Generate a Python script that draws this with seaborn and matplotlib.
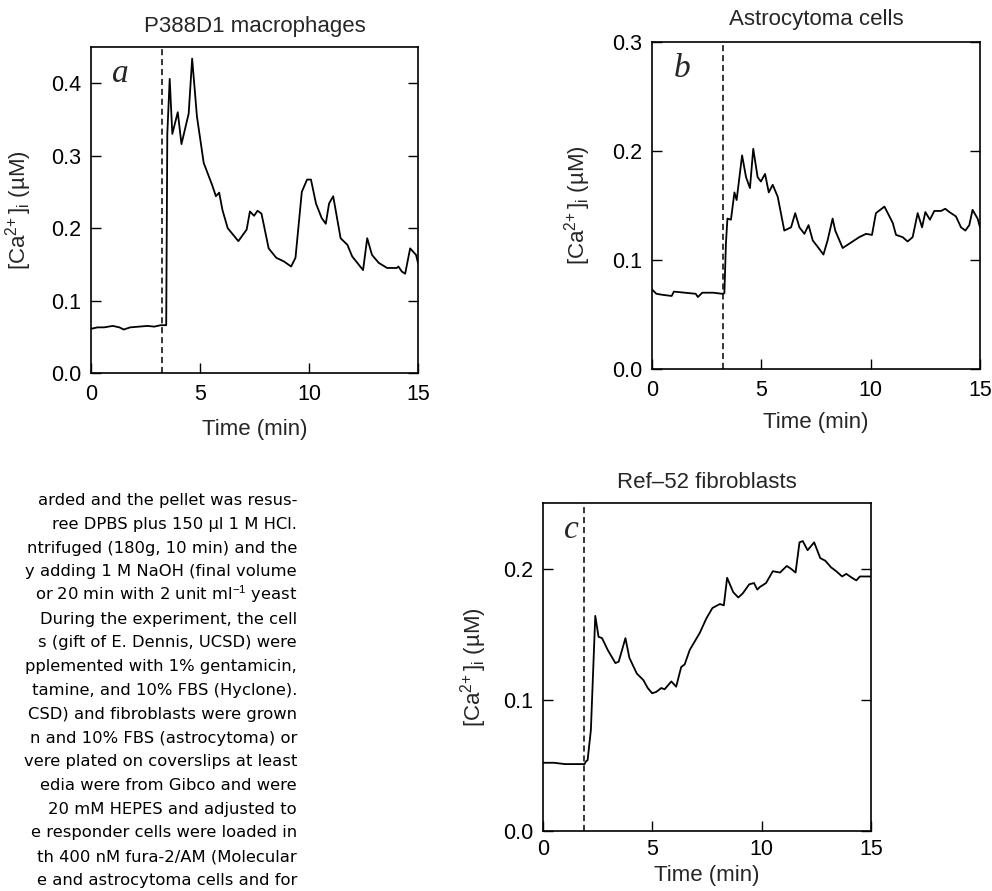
import matplotlib
matplotlib.use("Agg")
import matplotlib.pyplot as plt
import seaborn as sns

# traces (time in min, [Ca2+]i in uM)
t_a = [0.0, 0.3, 0.6, 1.0, 1.3, 1.5, 1.8, 2.2, 2.6, 2.9, 3.2, 3.45, 3.5, 3.61, 3.73, 3.98, 4.15, 4.48, 4.64, 4.86,
       5.17, 5.55, 5.73, 5.88, 6.03, 6.27, 6.76, 7.14, 7.29, 7.48, 7.64, 7.82, 8.15, 8.5, 8.85, 9.18, 9.38, 9.67, 9.91, 10.09,
       10.32, 10.58, 10.77, 10.92, 11.11, 11.45, 11.76, 11.98, 12.48, 12.67, 12.89, 13.2, 13.58, 14.03, 14.1, 14.26, 14.41, 14.64, 14.91, 15.0]
ca_a = [0.061, 0.063, 0.063, 0.065, 0.063, 0.060, 0.063, 0.064, 0.065, 0.064, 0.066, 0.066, 0.33, 0.406, 0.33, 0.36, 0.316, 0.358, 0.434, 0.354,
        0.29, 0.26, 0.244, 0.249, 0.225, 0.200, 0.182, 0.198, 0.223, 0.217, 0.224, 0.220, 0.172, 0.159, 0.154, 0.147, 0.159, 0.250, 0.267, 0.267,
        0.234, 0.214, 0.206, 0.234, 0.244, 0.186, 0.177, 0.161, 0.142, 0.186, 0.163, 0.152, 0.145, 0.145, 0.147, 0.140, 0.137, 0.172, 0.163, 0.152]

t_b = [0.0, 0.2, 0.5, 0.9, 1.0, 1.5, 2.0, 2.1, 2.3, 2.8, 3.2, 3.31, 3.38, 3.45, 3.61, 3.77, 3.87, 4.12, 4.30, 4.48,
       4.63, 4.83, 4.98, 5.17, 5.34, 5.52, 5.75, 6.05, 6.36, 6.55, 6.74, 6.97, 7.16, 7.35, 7.58, 7.84, 8.03, 8.26, 8.38, 8.72,
       9.48, 9.79, 10.06, 10.24, 10.63, 11.01, 11.16, 11.46, 11.69, 11.92, 12.15, 12.35, 12.50, 12.71, 12.91, 13.22, 13.41, 13.60, 13.90, 14.13,
       14.33, 14.51, 14.66, 14.89, 15.0]
ca_b = [0.073, 0.069, 0.068, 0.067, 0.071, 0.070, 0.069, 0.066, 0.070, 0.070, 0.069, 0.0695, 0.115, 0.138, 0.137, 0.162, 0.155, 0.196, 0.176, 0.166,
        0.202, 0.176, 0.172, 0.179, 0.162, 0.169, 0.158, 0.127, 0.130, 0.143, 0.130, 0.124, 0.132, 0.118, 0.112, 0.105, 0.118, 0.138, 0.127, 0.111,
        0.121, 0.124, 0.123, 0.143, 0.149, 0.134, 0.123, 0.121, 0.117, 0.121, 0.143, 0.130, 0.144, 0.137, 0.145, 0.145, 0.147, 0.144, 0.140, 0.130,
        0.127, 0.132, 0.146, 0.138, 0.130]

t_c = [0.0, 0.5, 1.0, 1.5, 1.9, 1.96, 2.04, 2.19, 2.39, 2.54, 2.70, 2.96, 3.31, 3.46, 3.77, 3.95, 4.29, 4.59, 4.79, 4.99,
       5.18, 5.41, 5.56, 5.87, 6.09, 6.32, 6.48, 6.71, 7.17, 7.47, 7.75, 8.09, 8.27, 8.42, 8.70, 8.93, 9.13, 9.43, 9.65, 9.80,
       9.92, 10.20, 10.51, 10.84, 11.15, 11.33, 11.55, 11.73, 11.88, 12.10, 12.40, 12.68, 12.91, 13.17, 13.41, 13.68, 13.87, 14.13, 14.33, 14.49,
       14.82, 15.0]
ca_c = [0.052, 0.052, 0.051, 0.051, 0.051, 0.053, 0.054, 0.077, 0.164, 0.148, 0.147, 0.138, 0.128, 0.129, 0.147, 0.132, 0.120, 0.115, 0.109, 0.105,
        0.106, 0.109, 0.108, 0.114, 0.110, 0.125, 0.127, 0.138, 0.151, 0.162, 0.170, 0.173, 0.172, 0.193, 0.182, 0.178, 0.181, 0.188, 0.189, 0.184,
        0.186, 0.189, 0.198, 0.197, 0.202, 0.200, 0.197, 0.220, 0.221, 0.214, 0.220, 0.208, 0.206, 0.201, 0.198, 0.194, 0.196, 0.193, 0.191, 0.194,
        0.194, 0.194]

titles = ["P388D1 macrophages", "Astrocytoma cells", "Ref\u201352 fibroblasts"]
letters = ["a", "b", "c"]
stim_times = [3.27, 3.26, 1.88]
y_max = [0.45, 0.30, 0.25]
y_ticks = [[0.0, 0.1, 0.2, 0.3, 0.4], [0.0, 0.1, 0.2, 0.3], [0.0, 0.1, 0.2]]
x_ticks = [0, 5, 10, 15]

# text column cut off at the left edge of the page
text_lines = [
    "arded and the pellet was resus-",
    "ree DPBS plus 150 \u00b5l 1 M HCl.",
    "ntrifuged (180g, 10 min) and the",
    "y adding 1 M NaOH (final volume",
    r"or 20 min with 2 unit ml$^{-1}$ yeast",
    "During the experiment, the cell",
    "s (gift of E. Dennis, UCSD) were",
    "pplemented with 1% gentamicin,",
    "tamine, and 10% FBS (Hyclone).",
    "CSD) and fibroblasts were grown",
    "n and 10% FBS (astrocytoma) or",
    "vere plated on coverslips at least",
    "edia were from Gibco and were",
    "20 mM HEPES and adjusted to",
    "e responder cells were loaded in",
    "th 400 nM fura-2/AM (Molecular",
    "e and astrocytoma cells and for",
]

sns.set_theme(style="ticks")
plt.rcParams["font.family"] = ["Liberation Sans", "DejaVu Sans"]
plt.rcParams["mathtext.fontset"] = "custom"
plt.rcParams["mathtext.rm"] = "Liberation Sans"
plt.rcParams["mathtext.it"] = "Liberation Sans:italic"

W, H = 992, 891
fig = plt.figure(figsize=(W / 100, H / 100), dpi=100)

# axes boxes in pixels: left, top, right, bottom
boxes = [(91, 47, 418, 373), (652, 42, 980, 369), (543, 503, 871, 831)]
series = [(t_a, ca_a), (t_b, ca_b), (t_c, ca_c)]
title_pads = [11, 12, 11]
ylabel_pads = [12, 14, 10]
xlabel_pads = [10, 8, 3]
xtick_pads = [8, 8, 6]

for i, (l, t, r, b) in enumerate(boxes):
    ax = fig.add_axes([l / W, 1 - b / H, (r - l) / W, (b - t) / H])
    x, y = series[i]
    sns.lineplot(x=x, y=y, ax=ax, color="black", linewidth=1.3, estimator=None)
    ax.axvline(stim_times[i], color="black", linestyle="--", linewidth=1.1, dashes=(4, 2.5))
    ax.set_xlim(0, 15)
    ax.set_ylim(0, y_max[i])
    ax.set_xticks(x_ticks)
    ax.set_yticks(y_ticks[i])
    ax.set_yticklabels([f"{v:.1f}" for v in y_ticks[i]])
    ax.tick_params(direction="in", length=7, width=1, right=True, top=False,
                   labelsize=15.5, colors="black")
    ax.tick_params(axis="x", pad=xtick_pads[i])
    ax.tick_params(axis="y", pad=7)
    for sp in ax.spines.values():
        sp.set_visible(True)
        sp.set_linewidth(1.2)
        sp.set_color("black")
    ax.set_title(titles[i], fontsize=16, pad=title_pads[i])
    ax.set_xlabel("Time (min)", fontsize=16, labelpad=xlabel_pads[i])
    ax.set_ylabel("[Ca$^{2\\!+}$]$_\\mathrm{i}$ (\u00b5M)", fontsize=16, labelpad=ylabel_pads[i])
    ax.text(0.065, 0.965, letters[i], transform=ax.transAxes, ha="left", va="top",
            fontsize=24, fontstyle="italic", family="Liberation Serif")

for k, line in enumerate(text_lines):
    yb = 505 + k * 23.75
    fig.text(297 / W, 1 - yb / H, line, ha="right", va="baseline", fontsize=11.8,
             family=["DejaVu Sans"], color="black")

fig.savefig("out.png", dpi=100)
